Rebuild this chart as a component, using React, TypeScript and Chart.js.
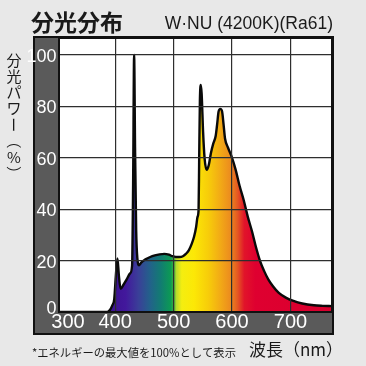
import { useEffect, useRef } from "react";
import { Chart, registerables } from "chart.js";

Chart.register(...registerables);

const wavelengths = [
  304, 386, 391, 395, 398.5, 401.5, 404, 406.5, 409.5, 414, 420, 425.5, 429, 430.8, 432.5, 434.2, 436, 438, 441, 445,
  452, 460, 468, 476, 484, 492, 498, 504, 510, 516, 521, 526, 531, 535, 538.5, 541, 542.8, 543.8, 545, 546.5,
  548, 550.5, 553, 556.5, 560, 564, 568, 572, 574.5, 577, 580, 583, 585.5, 588, 593, 600, 606, 613, 620, 627,
  634, 641, 648, 655, 662, 670, 680, 692, 705, 720, 740, 755, 771,
];
const power = [
  0, 0, 0.8, 2.5, 5, 15, 20.8, 14, 9, 10.5, 12.8, 15, 18, 50, 100, 62, 32, 21, 18.2, 19.3,
  20.5, 21.4, 22, 22.4, 22.6, 22.3, 21.7, 21.4, 21.4, 21.7, 22.6, 24, 26.5, 29.3, 33, 37, 40, 60, 82, 88.3,
  85, 70, 60, 55.3, 57, 62, 65.6, 68.5, 73, 78, 79, 78, 73, 67.5, 64, 60, 55.5, 49, 43.5, 37,
  31.5, 25.2, 19.8, 15.9, 12.7, 10, 7.4, 5.6, 4.3, 3.3, 2.6, 2.4, 2.3,
];
const yTicks = [0, 20, 40, 60, 80, 100];
const xTicks = [400, 500, 600, 700];
const xFirstLabel = "300";
const title = "分光分布";
const subtitle = "W·NU (4200K)(Ra61)";
const yTitle = "分光パワー（%）";
const xTitle = "波長（nm）";
const note = "*エネルギーの最大値を100%として表示";

const X_MIN = 304;
const X_MAX = 771;
const Y_MAX = 106.6;

const gradientStops: [number, string][] = [
  [380, "#3a0f8c"],
  [418, "#42189c"],
  [440, "#3a3f98"],
  [460, "#22628a"],
  [478, "#127c72"],
  [495, "#0c9a54"],
  [500, "#3aae40"],
  [505, "#bada2c"],
  [514, "#f4ee10"],
  [535, "#fce806"],
  [560, "#f7cc0a"],
  [580, "#f2aa16"],
  [597, "#ec8c1e"],
  [609, "#e55a22"],
  [621, "#e1142a"],
  [640, "#df0030"],
  [771, "#d9002e"],
];

const CJK = "'Noto Sans CJK JP', 'Noto Sans', sans-serif";
const NUM = "'Liberation Sans Narrow', 'Liberation Sans', Arial, sans-serif";

export default function App() {
  const ref = useRef<HTMLCanvasElement>(null);

  useEffect(() => {
    const canvas = ref.current;
    if (!canvas) return;

    const framePlugin = {
      id: "frame",
      beforeDraw(chart: any) {
        const { ctx, chartArea: a } = chart;
        ctx.save();
        ctx.fillStyle = "#5a5a5a";
        ctx.fillRect(34, 37, 299, 297);
        ctx.strokeStyle = "#111";
        ctx.lineWidth = 2;
        ctx.strokeRect(34, 37, 299, 297);
        ctx.fillStyle = "#ffffff";
        ctx.fillRect(a.left, a.top, a.right - a.left, a.bottom - a.top);
        ctx.restore();
      },
      afterDraw(chart: any) {
        const { ctx, chartArea: a, scales } = chart;
        const xs = scales.x;
        const ys = scales.y;
        ctx.save();
        ctx.strokeStyle = "#111";
        ctx.lineWidth = 2;
        ctx.strokeRect(a.left, a.top, a.right - a.left, a.bottom - a.top);

        ctx.fillStyle = "#ffffff";
        ctx.font = `18px ${NUM}`;
        ctx.textAlign = "right";
        ctx.textBaseline = "middle";
        yTicks.forEach((v) => {
          const py = v === 0 ? ys.getPixelForValue(v) - 3 : ys.getPixelForValue(v) + 2;
          ctx.fillText(String(v), 56.5, py);
        });

        ctx.font = `20px ${NUM}`;
        ctx.textAlign = "center";
        ctx.fillText(xFirstLabel, 68, 322);
        xTicks.forEach((v) => {
          ctx.fillText(String(v), xs.getPixelForValue(v), 322);
        });

        ctx.fillStyle = "#1a1a1a";
        ctx.textAlign = "left";
        ctx.textBaseline = "middle";
        ctx.font = `bold 23px ${CJK}`;
        ctx.fillText(title, 31, 22);
        ctx.font = `17.5px 'Liberation Sans', Arial, sans-serif`;
        ctx.textAlign = "right";
        ctx.textBaseline = "alphabetic";
        ctx.fillText(subtitle, 333, 29);

        ctx.font = `15px ${CJK}`;
        ctx.textAlign = "center";
        ctx.textBaseline = "middle";
        const rotated = new Set(["ー", "（", "）"]);
        Array.from(yTitle).forEach((ch, i) => {
          const cy = 60 + i * 16.2;
          if (rotated.has(ch)) {
            ctx.save();
            ctx.translate(14, cy);
            ctx.rotate(Math.PI / 2);
            ctx.fillText(ch, 0, 0);
            ctx.restore();
          } else {
            ctx.fillText(ch, 14, cy);
          }
        });

        ctx.textAlign = "left";
        ctx.font = `11.3px ${CJK}`;
        ctx.fillText(note, 32, 353);

        ctx.font = `17px ${CJK}`;
        ctx.fillText(xTitle, 249, 350);
        ctx.restore();
      },
    };

    const chart = new Chart(canvas, {
      type: "line",
      data: {
        datasets: [
          {
            data: wavelengths.map((w, i) => ({ x: w, y: power[i] })),
            borderColor: "#0a0a0a",
            borderWidth: 2.4,
            borderJoinStyle: "round",
            pointRadius: 0,
            cubicInterpolationMode: "monotone",
            fill: "origin",
            backgroundColor: (context: any) => {
              const c = context.chart;
              if (!c.chartArea) return "#888";
              const x = c.scales.x;
              const x0 = x.getPixelForValue(380);
              const x1 = x.getPixelForValue(771);
              const g = c.ctx.createLinearGradient(x0, 0, x1, 0);
              gradientStops.forEach(([w, col]) => g.addColorStop((w - 380) / (771 - 380), col));
              return g;
            },
          },
        ],
      },
      options: {
        responsive: false,
        devicePixelRatio: 1,
        animation: false,
        layout: { padding: { left: 59, top: 38, right: 34, bottom: 54 } },
        plugins: { legend: { display: false }, tooltip: { enabled: false } },
        scales: {
          x: {
            type: "linear",
            min: X_MIN,
            max: X_MAX,
            afterBuildTicks: (s: any) => {
              s.ticks = xTicks.map((v) => ({ value: v }));
            },
            ticks: { display: false },
            grid: { color: "#2e2e2e", lineWidth: 1.2, drawTicks: false, z: 1 },
            border: { display: false },
          },
          y: {
            type: "linear",
            min: 0,
            max: Y_MAX,
            afterBuildTicks: (s: any) => {
              s.ticks = yTicks.map((v) => ({ value: v }));
            },
            ticks: { display: false },
            grid: { color: "#2e2e2e", lineWidth: 1.2, drawTicks: false, z: 1 },
            border: { display: false },
          },
        },
      },
      plugins: [framePlugin],
    } as any);

    return () => chart.destroy();
  }, []);

  return (
    <div style={{ position: "fixed", left: 0, top: 0, width: 366, height: 366, background: "#e8e8e8" }}>
      <canvas ref={ref} width={366} height={366} style={{ display: "block", width: 366, height: 366 }} />
    </div>
  );
}
